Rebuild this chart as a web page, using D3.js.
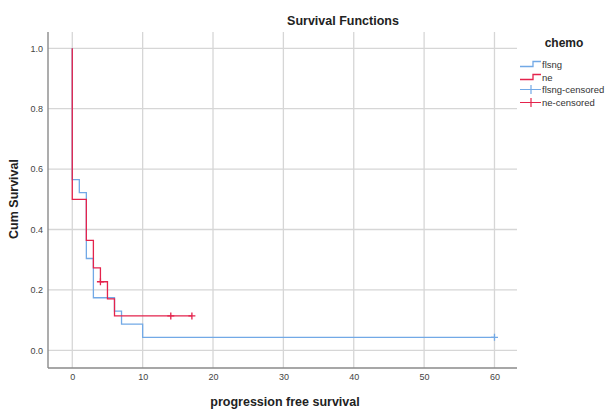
<!DOCTYPE html>
<html>
<head>
<meta charset="utf-8">
<script src="https://cdn.jsdelivr.net/npm/d3@7"></script>
<style>
  body { margin: 0; background: #fff; }
  svg { display: block; font-family: "Liberation Sans", Arial, sans-serif; }
</style>
</head>
<body>
<div id="chart"></div>
<script>
// survival steps
var flsngTime = [0, 0, 1, 2, 3, 6, 7, 10, 60];
var flsngSurv = [1.0, 0.565, 0.522, 0.304, 0.174, 0.130, 0.087, 0.043, 0.043];
var neTime = [0, 0, 2, 3, 4, 5, 6, 17];
var neSurv = [1.0, 0.5, 0.364, 0.273, 0.227, 0.170, 0.114, 0.114];
var flsngCensTime = [60];
var flsngCensSurv = [0.043];
var neCensTime = [4, 14, 17];
var neCensSurv = [0.227, 0.114, 0.114];
var xTicks = [0, 10, 20, 30, 40, 50, 60];
var yTicks = [0, 0.2, 0.4, 0.6, 0.8, 1.0];
var legendLabels = ["flsng", "ne", "flsng-censored", "ne-censored"];

var blue = "#72a9e6";
var red = "#e4234c";
var gridColor = "#d6d6d6";

var W = 613, H = 409;
var pLeft = 48, pRight = 517, pTop = 32, pBottom = 368;

var svg = d3.select("#chart").append("svg")
    .attr("width", W)
    .attr("height", H);

var x = d3.scaleLinear().domain([-3.45, 63.2]).range([pLeft, pRight]);
var y = d3.scaleLinear().domain([-0.0586, 1.054]).range([pBottom, pTop]);

// grid
svg.append("g").selectAll("line").data(xTicks).enter().append("line")
    .attr("x1", d => x(d)).attr("x2", d => x(d))
    .attr("y1", pTop).attr("y2", pBottom)
    .attr("stroke", gridColor).attr("stroke-width", 1.3);
svg.append("g").selectAll("line").data(yTicks).enter().append("line")
    .attr("x1", pLeft).attr("x2", pRight)
    .attr("y1", d => y(d)).attr("y2", d => y(d))
    .attr("stroke", gridColor).attr("stroke-width", 1.3);

// axes
var xAxis = svg.append("g").attr("transform", "translate(0," + pBottom + ")")
    .call(d3.axisBottom(x).tickValues(xTicks).tickSize(0).tickPadding(6).tickFormat(d3.format("d")));
var yAxis = svg.append("g").attr("transform", "translate(" + pLeft + ",0)")
    .call(d3.axisLeft(y).tickValues(yTicks).tickSize(0).tickPadding(5).tickFormat(d3.format(".1f")));
[xAxis, yAxis].forEach(function (a) {
    a.select(".domain").attr("stroke", "#8a8a8a").attr("stroke-width", 1.4);
    a.selectAll("text").style("font-size", "9px").style("fill", "#444").style("font-family", "Liberation Sans, Arial, sans-serif");
});
yAxis.select(".domain").attr("d", "M0," + pTop + "V" + pBottom);
xAxis.select(".domain").attr("d", "M" + pLeft + ",0H" + pRight);

// curves
var line = d3.line().curve(d3.curveStepAfter).x(d => x(d[0])).y(d => y(d[1]));
function drawCurve(times, surv, color) {
    svg.append("path")
        .datum(times.map((t, i) => [t, surv[i]]))
        .attr("d", line)
        .attr("fill", "none")
        .attr("stroke", color)
        .attr("stroke-width", 1.3);
}
drawCurve(flsngTime, flsngSurv, blue);
drawCurve(neTime, neSurv, red);

function drawCensored(times, surv, color) {
    var g = svg.append("g");
    times.forEach(function (t, i) {
        var cx = x(t), cy = y(surv[i]);
        g.append("path")
            .attr("d", "M" + (cx - 3.5) + "," + cy + "H" + (cx + 3.5) + "M" + cx + "," + (cy - 3.5) + "V" + (cy + 3.5))
            .attr("fill", "none")
            .attr("stroke", color).attr("stroke-width", 1.3);
    });
}
drawCensored(flsngCensTime, flsngCensSurv, blue);
drawCensored(neCensTime, neCensSurv, red);

// titles
svg.append("text").attr("x", 343).attr("y", 25).attr("text-anchor", "middle")
    .style("font-size", "12.5px").style("font-weight", "bold").style("fill", "#222")
    .text("Survival Functions");
svg.append("text").attr("x", 285).attr("y", 406).attr("text-anchor", "middle")
    .style("font-size", "12.5px").style("font-weight", "bold").style("fill", "#222")
    .text("progression free survival");
svg.append("text").attr("transform", "translate(18,199) rotate(-90)").attr("text-anchor", "middle")
    .style("font-size", "12.5px").style("font-weight", "bold").style("fill", "#222")
    .text("Cum Survival");

// legend
var lg = svg.append("g").attr("transform", "translate(520,0)");
lg.append("text").attr("x", 44).attr("y", 47).attr("text-anchor", "middle")
    .style("font-size", "12px").style("font-weight", "bold").style("fill", "#222")
    .text("chemo");
var legendColors = [blue, red, blue, red];
legendLabels.forEach(function (lab, i) {
    var cy = Math.round(64 + i * 12.5) + 0.5;
    var c = legendColors[i];
    if (i < 2) {
        lg.append("path")
            .attr("d", "M0," + (cy + 2) + "H13V" + (cy - 3) + "H21")
            .attr("fill", "none").attr("stroke", c).attr("stroke-width", 1.3);
    } else {
        lg.append("path")
            .attr("d", "M0," + cy + "H21M11," + (cy - 4.5) + "V" + (cy + 4.5))
            .attr("fill", "none").attr("stroke", c).attr("stroke-width", 1.2);
    }
    lg.append("text").attr("x", 22).attr("y", cy + 3.5)
        .style("font-size", "9.5px").style("fill", "#333")
        .text(lab);
});
</script>
</body>
</html>
